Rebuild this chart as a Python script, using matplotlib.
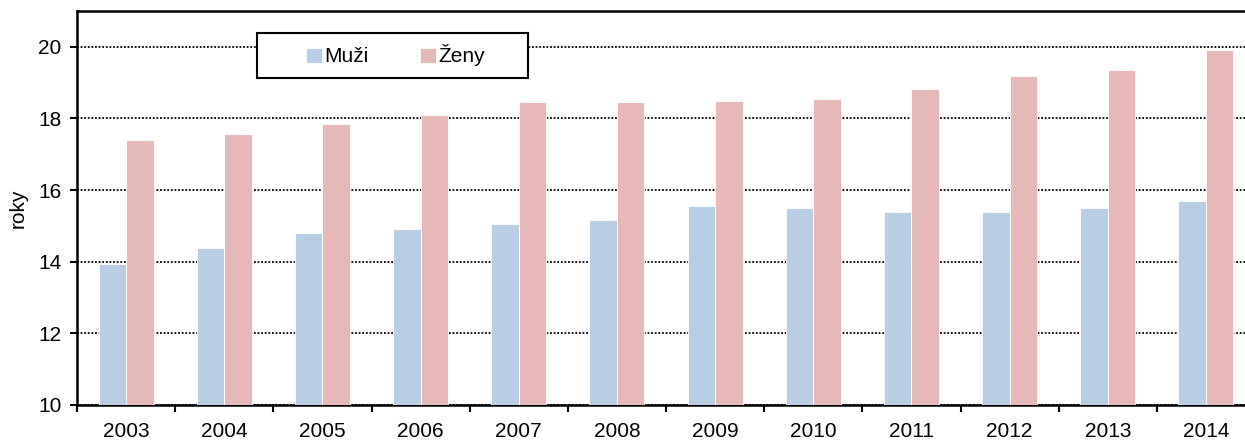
import numpy as np
import matplotlib
matplotlib.use("Agg")
import matplotlib.pyplot as plt
from matplotlib.patches import Rectangle

plt.rcParams['font.family'] = ['Liberation Sans', 'DejaVu Sans']

years = ['2003', '2004', '2005', '2006', '2007', '2008', '2009', '2010', '2011', '2012', '2013', '2014']
muzi = [13.94, 14.38, 14.80, 14.92, 15.06, 15.17, 15.56, 15.50, 15.39, 15.39, 15.50, 15.70]
zeny = [17.40, 17.57, 17.85, 18.10, 18.46, 18.46, 18.49, 18.55, 18.83, 19.19, 19.36, 19.92]

W, H = 1245, 441
fig = plt.figure(figsize=(W / 100, H / 100), dpi=100)
ax = fig.add_axes([77 / W, 36 / H, 1178 / W, 394 / H])

x = np.arange(len(years))
w = 0.28
ax.bar(x - w / 2, muzi, w, color='#B9CDE5', edgecolor='white', linewidth=0.6, label='Muži', zorder=3)
ax.bar(x + w / 2, zeny, w, color='#E6B9B8', edgecolor='white', linewidth=0.6, label='Ženy', zorder=3)

ax.set_xlim(-0.5, len(years) - 0.5)
ax.set_ylim(10, 21)
ax.set_yticks([10, 12, 14, 16, 18, 20])
ax.yaxis.grid(True, linestyle=(0, (1, 1)), color='black', linewidth=1.3, zorder=1)
ax.set_axisbelow(True)

ax.set_xticks(x)
ax.set_xticklabels(years)
ax.set_xticks(np.arange(len(years) + 1) - 0.5, minor=True)
ax.tick_params(axis='x', which='major', length=0, pad=12, labelsize=15)
ax.tick_params(axis='x', which='minor', length=5, width=1.5, direction='out')
ax.tick_params(axis='y', length=5, width=1.5, direction='out', labelsize=15, pad=6)

for s in ['left', 'bottom', 'top', 'right']:
    ax.spines[s].set_linewidth(1.8)

ax.set_ylabel('roky', fontsize=15, labelpad=8)

# legend frame (wider than the entries, as in the original)
box = Rectangle((257 / W, (H - 78) / H), 271 / W, 45 / H, transform=fig.transFigure,
                facecolor='white', edgecolor='black', linewidth=1.5, zorder=4)
ax.add_patch(box)
box.set_clip_on(False)

leg = ax.legend(loc='center left', bbox_to_anchor=(306 / W, (H - 55.5) / H),
                bbox_transform=fig.transFigure, ncol=2,
                fontsize=15, frameon=False,
                handlelength=0.75, handleheight=0.75, handletextpad=0.15,
                columnspacing=2.45, borderpad=0, borderaxespad=0)
leg.set_zorder(5)

fig.savefig('out.png', dpi=100)
